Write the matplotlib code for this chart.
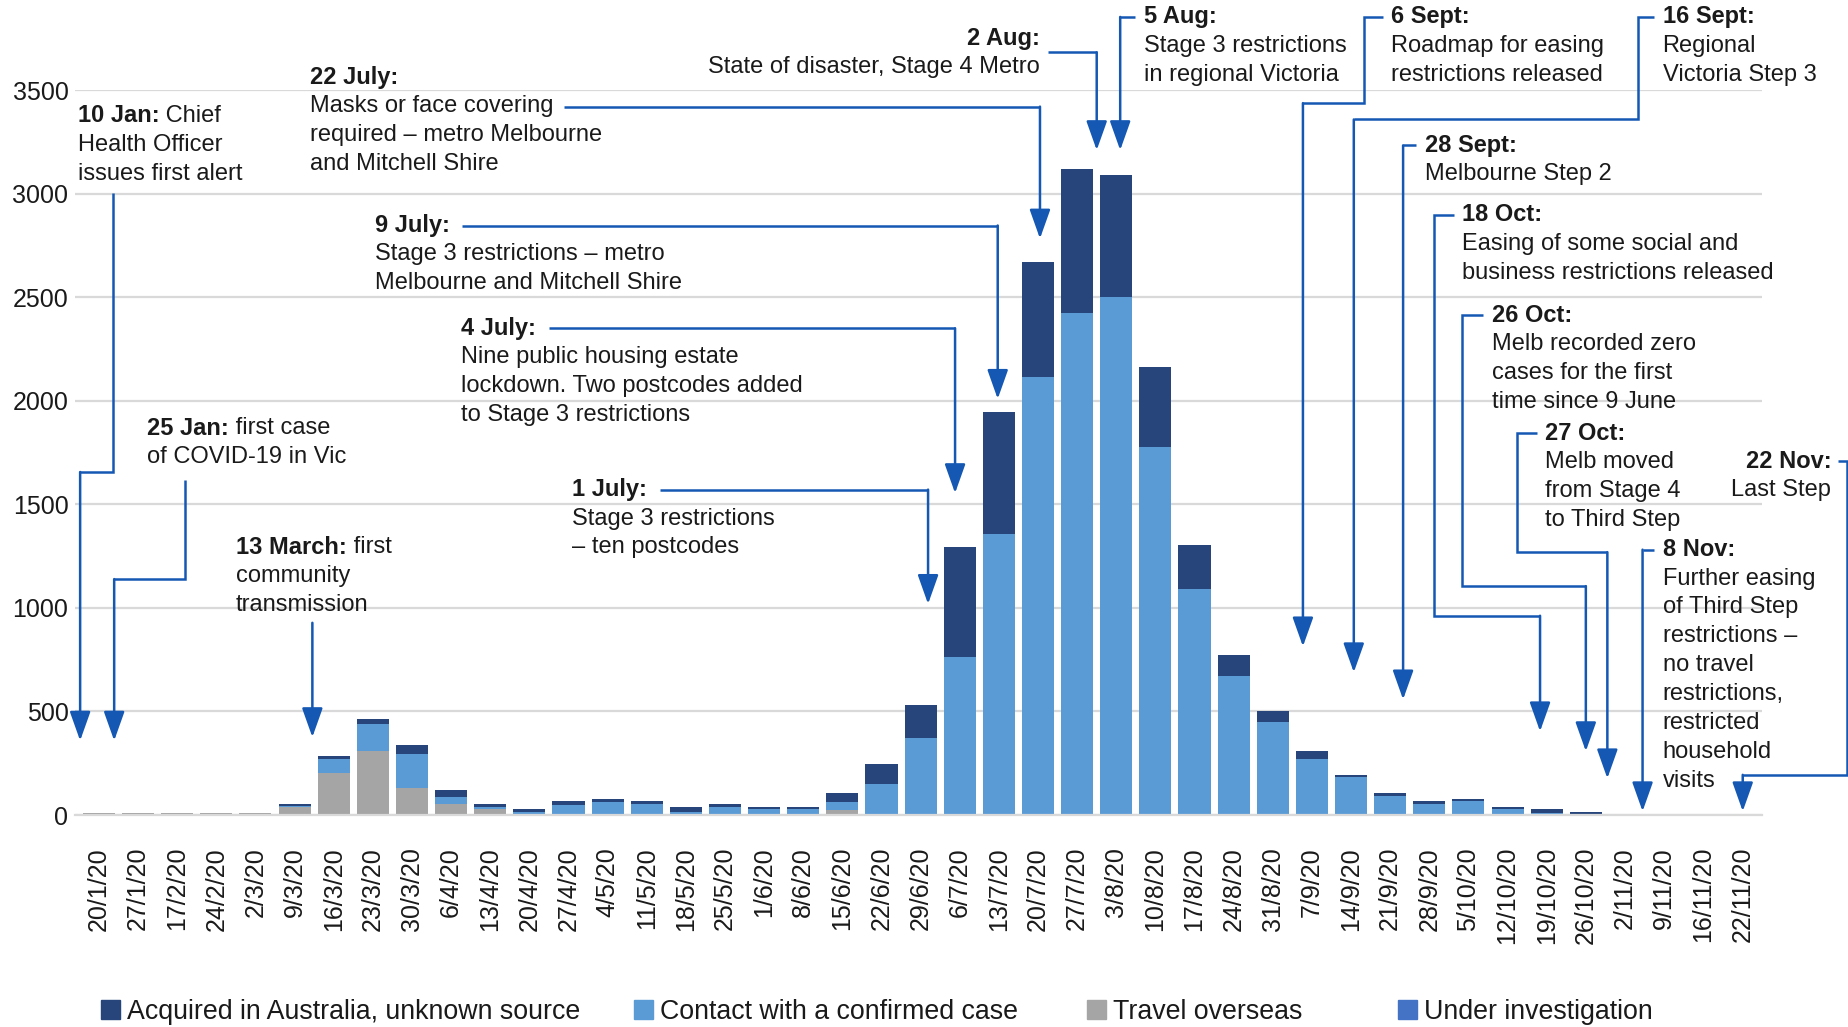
import numpy as np
import matplotlib
matplotlib.use('Agg')
import matplotlib.pyplot as plt
from matplotlib.patches import Patch

# --- Data (weekly cases, Victoria 2020) ---
WEEKS = ['20/1/20', '27/1/20', '17/2/20', '24/2/20', '2/3/20', '9/3/20', '16/3/20',
         '23/3/20', '30/3/20', '6/4/20', '13/4/20', '20/4/20', '27/4/20', '4/5/20',
         '11/5/20', '18/5/20', '25/5/20', '1/6/20', '8/6/20', '15/6/20', '22/6/20',
         '29/6/20', '6/7/20', '13/7/20', '20/7/20', '27/7/20', '3/8/20', '10/8/20',
         '17/8/20', '24/8/20', '31/8/20', '7/9/20', '14/9/20', '21/9/20', '28/9/20',
         '5/10/20', '12/10/20', '19/10/20', '26/10/20', '2/11/20', '9/11/20',
         '16/11/20', '22/11/20']

TRAVEL = [10, 10, 10, 10, 10, 40, 204, 307, 129, 51, 27, 3, 2, 2, 2, 3, 3, 2, 2, 24, 5, 7,
          3, 2, 2, 2, 2, 1, 1, 1, 0, 0, 0, 0, 0, 0, 0, 0, 0, 0, 0, 0, 0]
CONTACT = [0, 0, 0, 0, 0, 4, 65, 131, 165, 37, 12, 10, 48, 62, 49, 12, 37, 25, 25, 40, 146, 365,
           760, 1354, 2111, 2424, 2498, 1775, 1092, 671, 449, 270, 183, 90, 51, 66, 29, 12, 5,
           0, 0, 0, 0]
UNKNOWN = [0, 0, 0, 0, 0, 10, 16, 27, 44, 31, 14, 16, 16, 14, 15, 25, 13, 13, 13, 41, 94, 157,
           530, 592, 557, 694, 592, 387, 211, 103, 54, 39, 12, 15, 15, 12, 11, 15, 8,
           0, 0, 0, 0]
INVESTIGATION = [0] * 43

LEGEND_NAMES = ['Acquired in Australia, unknown source', 'Contact with a confirmed case',
                'Travel overseas', 'Under investigation']

# event annotations: bold date, rest of first line, following lines
EVENT_DATES = ['10 Jan:', '25 Jan:', '13 March:', '22 July:', '9 July:', '4 July:', '1 July:',
               '2 Aug:', '5 Aug:', '6 Sept:', '16 Sept:', '28 Sept:', '18 Oct:', '26 Oct:',
               '27 Oct:', '8 Nov:', '22 Nov:']
EVENT_FIRST = [' Chief', ' first case', ' first', '', '', '', '', '', '', '', '', '', '', '',
               '', '', '']
EVENT_BODY = [
    ['Health Officer', 'issues first alert'],
    ['of COVID-19 in Vic'],
    ['community', 'transmission'],
    ['Masks or face covering', 'required \u2013 metro Melbourne', 'and Mitchell Shire'],
    ['Stage 3 restrictions \u2013 metro', 'Melbourne and Mitchell Shire'],
    ['Nine public housing estate', 'lockdown. Two postcodes added', 'to Stage 3 restrictions'],
    ['Stage 3 restrictions', '\u2013 ten postcodes'],
    ['State of disaster, Stage 4 Metro'],
    ['Stage 3 restrictions', 'in regional Victoria'],
    ['Roadmap for easing', 'restrictions released'],
    ['Regional', 'Victoria Step 3'],
    ['Melbourne Step 2'],
    ['Easing of some social and', 'business restrictions released'],
    ['Melb recorded zero', 'cases for the first', 'time since 9 June'],
    ['Melb moved', 'from Stage 4', 'to Third Step'],
    ['Further easing', 'of Third Step', 'restrictions \u2013', 'no travel', 'restrictions,',
     'restricted', 'household', 'visits'],
    ['Last Step'],
]

# --- layout of the annotations (category units, case units) ---
TEXT_POS = [(-0.54, 3375, 'left'), (1.24, 1867, 'left'), (3.50, 1292, 'left'),
            (5.40, 3563, 'left'), (7.05, 2846, 'left'), (9.25, 2350, 'left'),
            (12.09, 1571, 'left'), (24.05, 3750, 'right'), (26.70, 3853, 'left'),
            (33.03, 3853, 'left'), (39.96, 3853, 'left'), (33.88, 3233, 'left'),
            (34.84, 2897, 'left'), (35.59, 2413, 'left'), (36.95, 1844, 'left'),
            (39.96, 1281, 'left'), (44.27, 1708, 'right')]
LEADERS = [
    [(0.36, 3005), (0.36, 1656), (-0.48, 1656), (-0.48, 359)],
    [(2.20, 1616), (2.20, 1139), (0.39, 1139), (0.39, 359)],
    [(5.455, 928), (5.455, 376)],
    [(11.875, 3420), (24.05, 3420), (24.05, 2783)],
    [(9.28, 2846), (22.97, 2846), (22.97, 2009)],
    [(11.51, 2350), (21.88, 2350), (21.88, 1554)],
    [(14.34, 1571), (21.19, 1571), (21.19, 1019)],
    [(24.26, 3682), (25.50, 3682), (25.50, 3210)],
    [(26.49, 3853), (26.10, 3853), (26.10, 3210)],
    [(32.82, 3853), (32.34, 3853), (32.34, 3437), (30.77, 3437), (30.77, 814)],
    [(39.75, 3853), (39.33, 3853), (39.33, 3358), (32.07, 3358), (32.07, 689)],
    [(33.66, 3233), (33.33, 3233), (33.33, 558)],
    [(34.63, 2897), (34.12, 2897), (34.12, 962), (36.83, 962), (36.83, 404)],
    [(35.38, 2413), (34.84, 2413), (34.84, 1105), (38.00, 1105), (38.00, 308)],
    [(36.74, 1844), (36.23, 1844), (36.23, 1269), (38.55, 1269), (38.55, 177)],
    [(39.75, 1281), (39.45, 1281), (39.45, 18)],
    [(44.45, 1708), (44.67, 1708), (44.67, 194), (42.01, 194), (42.01, 18)],
]

COL_UNKNOWN = '#27457A'
COL_CONTACT = '#5B9BD5'
COL_TRAVEL = '#A5A5A5'
COL_INVEST = '#4472C4'
LINE_COL = '#1458B4'
TEXT_COL = '#1a1a1a'

plt.rcParams['font.family'] = ['Liberation Sans', 'DejaVu Sans']

fig = plt.figure(figsize=(18.49, 10.27), dpi=100)
ax = fig.add_axes([0.0408, 0.2064, 0.9121, 0.7059])

x = np.arange(len(WEEKS))
bottom = np.zeros(len(WEEKS))
# stacked from bottom: travel, contact, unknown source, under investigation
for vals, col in [(TRAVEL, COL_TRAVEL), (CONTACT, COL_CONTACT),
                  (UNKNOWN, COL_UNKNOWN), (INVESTIGATION, COL_INVEST)]:
    ax.bar(x, vals, width=0.82, bottom=bottom, color=col, linewidth=0, zorder=2)
    bottom += np.array(vals)

ax.set_xlim(-0.6, 42.5)
ax.set_ylim(0, 3500)
ax.set_yticks(range(0, 3501, 500))
ax.set_xticks(x)
ax.set_xticklabels(WEEKS, rotation=90)
ax.yaxis.grid(True, color='#D9D9D9', lw=1.6, zorder=0)
ax.set_axisbelow(True)
for s in ['top', 'right', 'left']:
    ax.spines[s].set_visible(False)
ax.spines['bottom'].set_color('#D9D9D9')
ax.spines['bottom'].set_linewidth(1.6)
ax.tick_params(axis='both', length=0, labelsize=18, colors=TEXT_COL)
ax.tick_params(axis='x', pad=23)
ax.tick_params(axis='y', pad=5)

# annotations
FS = 17
LINE_STEP = 20.8  # points between text lines
for i, date in enumerate(EVENT_DATES):
    tx, ty, ha = TEXT_POS[i]
    head = ax.text(tx, ty, date, fontsize=FS, fontweight='bold', ha=ha, va='center',
                   color=TEXT_COL, clip_on=False)
    if EVENT_FIRST[i]:
        ax.annotate(EVENT_FIRST[i], xy=(1, 0.5), xycoords=head, fontsize=FS,
                    ha='left', va='center', color=TEXT_COL)
    for k, line in enumerate(EVENT_BODY[i]):
        ax.annotate(line, xy=(tx, ty), xycoords='data', xytext=(0, -LINE_STEP * (k + 1)),
                    textcoords='offset points', fontsize=FS, ha=ha, va='center',
                    color=TEXT_COL, annotation_clip=False)

    pts = LEADERS[i]
    if len(pts) > 2:
        xs = [p[0] for p in pts[:-1]]
        ys = [p[1] for p in pts[:-1]]
        ax.plot(xs, ys, color=LINE_COL, lw=1.8, clip_on=False, zorder=3,
                solid_capstyle='butt', solid_joinstyle='miter')
    ax.annotate('', xy=pts[-1], xytext=pts[-2], xycoords='data', annotation_clip=False,
                arrowprops=dict(arrowstyle='-|>,head_length=0.9,head_width=0.32',
                                mutation_scale=20, color=LINE_COL, lw=1.8,
                                shrinkA=0, shrinkB=0))

# legend, one entry at a time to match spacing of the original
leg_cols = [COL_UNKNOWN, COL_CONTACT, COL_TRAVEL, COL_INVEST]
leg_x = [101, 634, 1087, 1398]
for name, col, lx in zip(LEGEND_NAMES, leg_cols, leg_x):
    fig.legend(handles=[Patch(color=col)], labels=[name], loc='center left',
               bbox_to_anchor=(lx / 1849, 0.0146), frameon=False, borderpad=0,
               borderaxespad=0, handlelength=0.72, handleheight=0.72, handletextpad=0.25,
               fontsize=19.3, labelcolor=TEXT_COL)

fig.savefig('out.png', dpi=100)
